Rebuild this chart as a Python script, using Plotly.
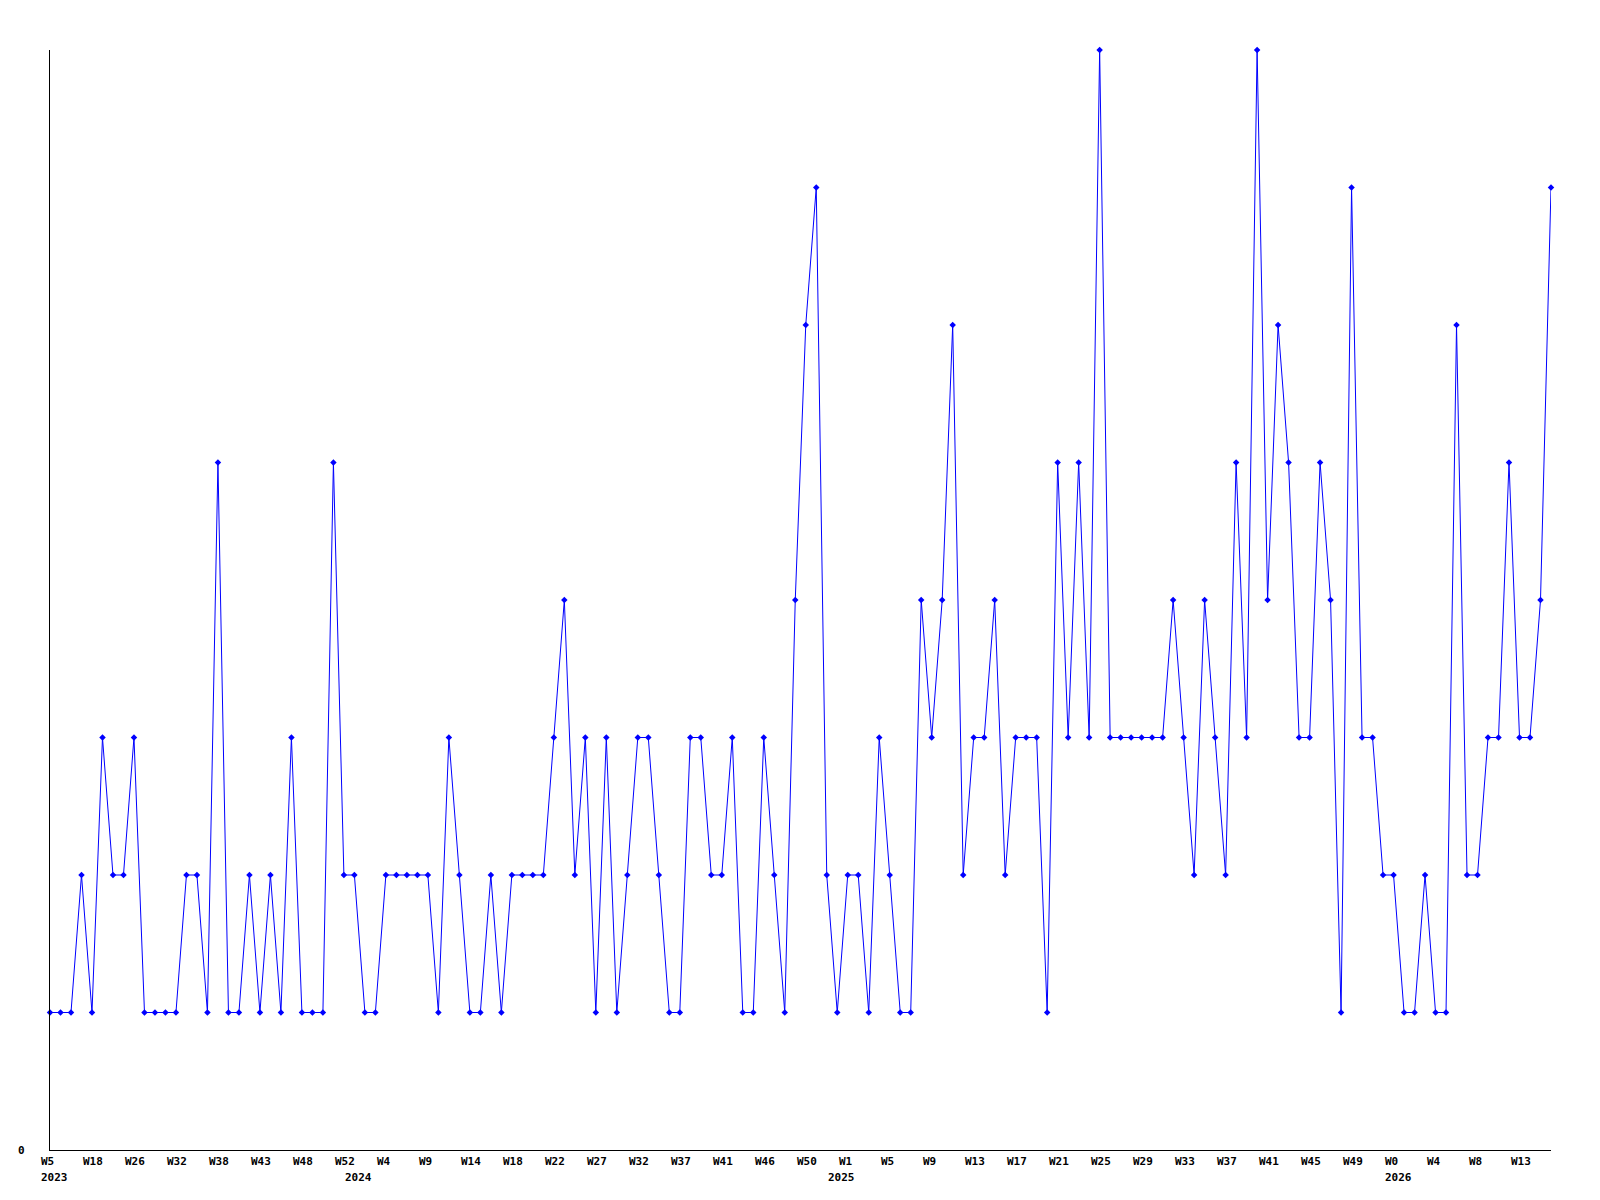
import plotly.graph_objects as go

# Weekly counts (one point per data week)
counts = [1, 1, 1, 2, 1, 3, 2, 2, 3, 1,
          1, 1, 1, 2, 2, 1, 5, 1, 1, 2,
          1, 2, 1, 3, 1, 1, 1, 5, 2, 2,
          1, 1, 2, 2, 2, 2, 2, 1, 3, 2,
          1, 1, 2, 1, 2, 2, 2, 2, 3, 4,
          2, 3, 1, 3, 1, 2, 3, 3, 2, 1,
          1, 3, 3, 2, 2, 3, 1, 1, 3, 2,
          1, 4, 6, 7, 2, 1, 2, 2, 1, 3,
          2, 1, 1, 4, 3, 4, 6, 2, 3, 3,
          4, 2, 3, 3, 3, 1, 5, 3, 5, 3,
          8, 3, 3, 3, 3, 3, 3, 4, 3, 2,
          4, 3, 2, 5, 3, 8, 4, 6, 5, 3,
          3, 5, 4, 1, 7, 3, 3, 2, 2, 1,
          1, 2, 1, 1, 6, 2, 2, 3, 3, 5,
          3, 3, 4, 7]

# Week tick labels (every 4th point)
tick_weeks = ["W5", "W18", "W26", "W32", "W38", "W43", "W48", "W52", "W4",
              "W9", "W14", "W18", "W22", "W27", "W32", "W37", "W41", "W46",
              "W50", "W1", "W5", "W9", "W13", "W17", "W21", "W25", "W29",
              "W33", "W37", "W41", "W45", "W49", "W0", "W4", "W8", "W13"]
tick_step = 4

# Year labels and the point index where each year starts
years = ["2023", "2024", "2025", "2026"]
year_start_idx = [0, 29, 75, 128]

y_labels = ["0"]

x = list(range(len(counts)))
FONT = dict(family="DejaVu Sans Mono", size=11, color="black", weight="bold")

fig = go.Figure()
fig.add_trace(go.Scatter(
    x=x, y=counts, mode="lines+markers",
    line=dict(color="#0000FF", width=1),
    marker=dict(symbol="diamond", size=5, color="#0000FF"),
    cliponaxis=False, hoverinfo="skip", showlegend=False,
))

annotations = []
for k, lab in enumerate(tick_weeks):
    annotations.append(dict(
        x=k * tick_step, y=0, xref="x", yref="paper", text=lab,
        showarrow=False, xanchor="left", yanchor="top",
        xshift=-11, yshift=-3, font=FONT,
    ))
for lab, idx in zip(years, year_start_idx):
    annotations.append(dict(
        x=idx, y=0, xref="x", yref="paper", text=lab,
        showarrow=False, xanchor="left", yanchor="top",
        xshift=-11, yshift=-19, font=FONT,
    ))
annotations.append(dict(
    x=0, y=0, xref="paper", yref="y", text=y_labels[0],
    showarrow=False, xanchor="right", yanchor="middle",
    xshift=-23, font=FONT,
))

fig.update_layout(
    width=1600, height=1200,
    margin=dict(l=50, r=49, t=50, b=50, pad=0),
    paper_bgcolor="white", plot_bgcolor="white",
    annotations=annotations,
    xaxis=dict(range=[0, len(counts) - 1], showgrid=False, zeroline=False,
               showline=True, linecolor="black", linewidth=1,
               showticklabels=False, ticks=""),
    yaxis=dict(range=[0, 8], showgrid=False, zeroline=False,
               showline=True, linecolor="black", linewidth=1,
               showticklabels=False, ticks=""),
)

fig.write_html("out.html", config={"displayModeBar": False},
               post_script="document.body.style.margin='0';")
